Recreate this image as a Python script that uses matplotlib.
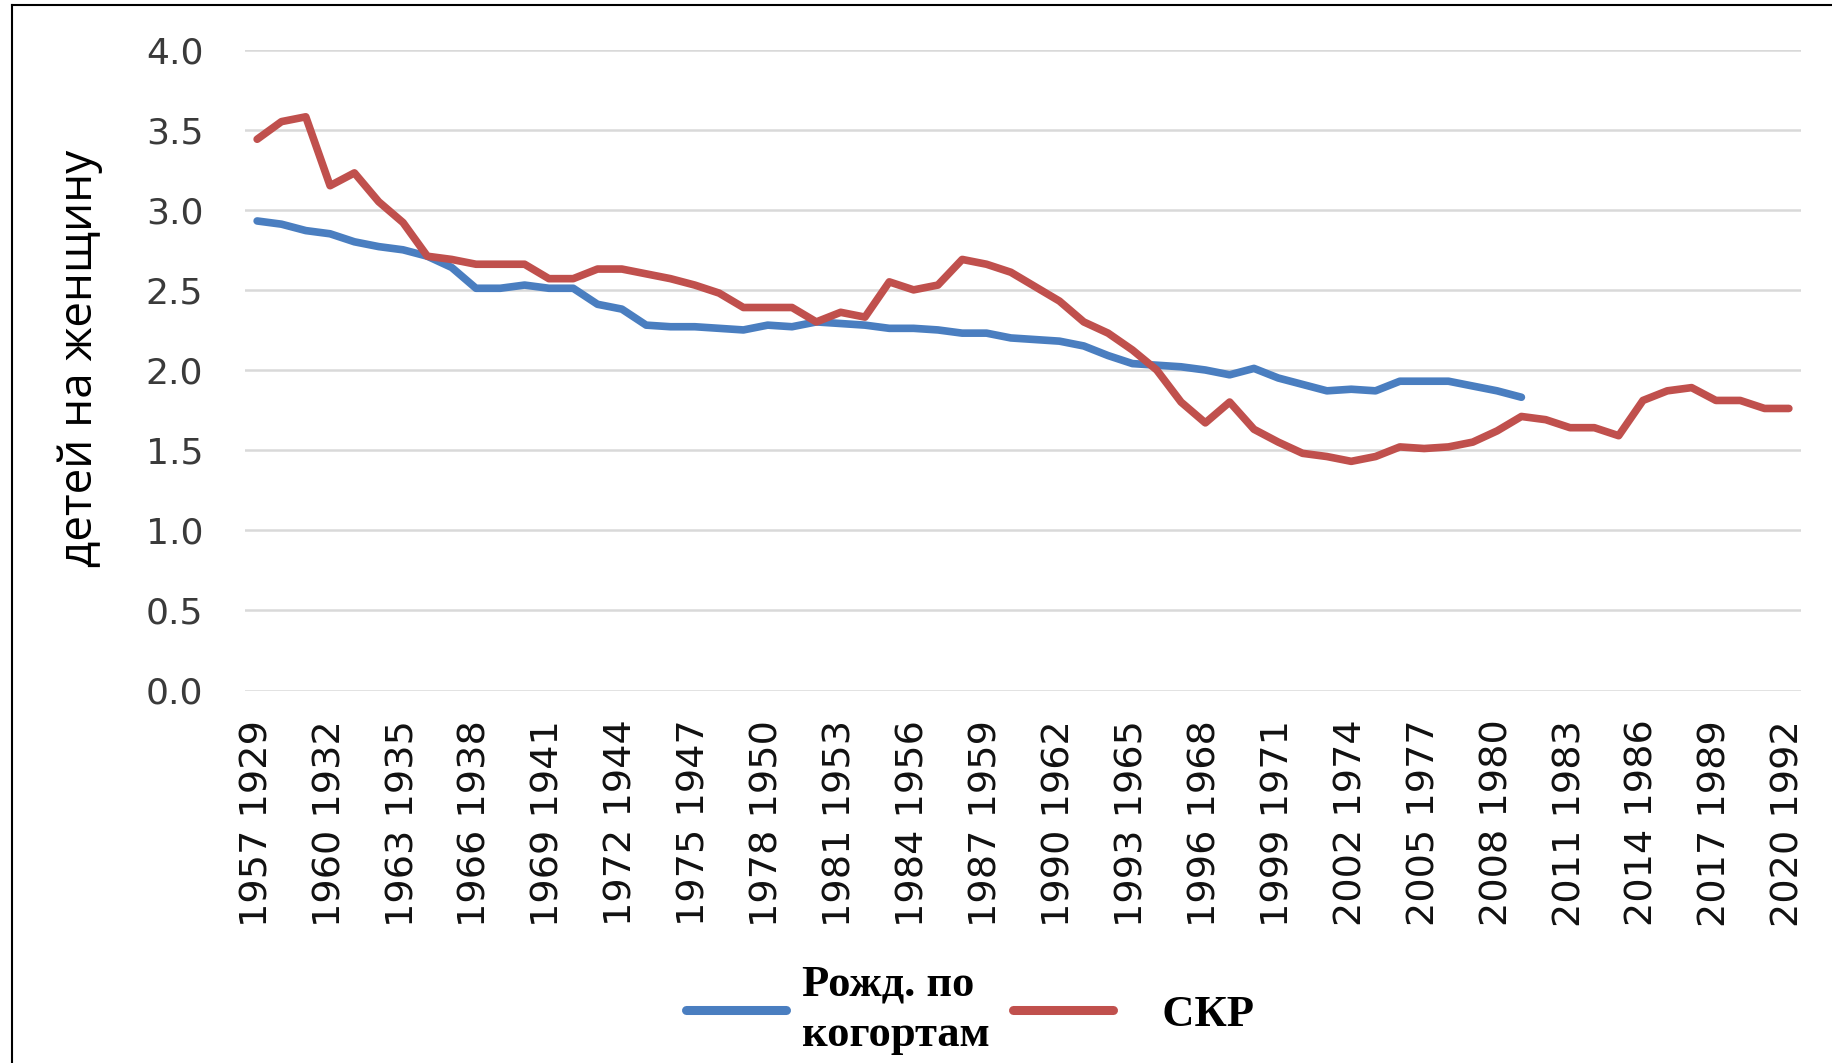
import matplotlib
matplotlib.use("Agg")
import matplotlib.pyplot as plt
from matplotlib.lines import Line2D

# period years on the axis and the matching cohort years (28 years earlier)
years = list(range(1957, 2021))
cohort_years = [y - 28 for y in years]

# total fertility rate (СКР), 1957-2020
tfr = [3.44, 3.55, 3.58, 3.15, 3.23, 3.05, 2.92, 2.71, 2.69, 2.66,
       2.66, 2.66, 2.57, 2.57, 2.63, 2.63, 2.60, 2.57, 2.53, 2.48,
       2.39, 2.39, 2.39, 2.30, 2.36, 2.33, 2.55, 2.50, 2.53, 2.69,
       2.66, 2.61, 2.52, 2.43, 2.30, 2.23, 2.125, 2.00, 1.80, 1.67,
       1.80, 1.63, 1.55, 1.48, 1.46, 1.43, 1.46, 1.52, 1.51, 1.52,
       1.55, 1.62, 1.71, 1.69, 1.64, 1.64, 1.59, 1.81, 1.87, 1.89,
       1.81, 1.81, 1.76, 1.76]

# completed cohort fertility, cohorts 1929-1981 (shown at period year + 28)
cohort = [2.93, 2.91, 2.87, 2.85, 2.80, 2.77, 2.75, 2.71, 2.64, 2.51,
          2.51, 2.53, 2.51, 2.51, 2.41, 2.38, 2.28, 2.27, 2.27, 2.26,
          2.25, 2.28, 2.27, 2.30, 2.29, 2.28, 2.26, 2.26, 2.25, 2.23,
          2.23, 2.20, 2.19, 2.18, 2.15, 2.09, 2.04, 2.03, 2.02, 2.00,
          1.97, 2.01, 1.95, 1.91, 1.87, 1.88, 1.87, 1.93, 1.93, 1.93,
          1.90, 1.87, 1.83]

tick_labels = [f"{y} {c}" for y, c in zip(years, cohort_years)]

blue = "#4A7EC0"
red = "#C0504D"

fig = plt.figure(figsize=(18.32, 10.63), dpi=100)
ax = fig.add_axes([245 / 1832, 1 - 690.5 / 1063, 1556 / 1832, 641 / 1063])

x_all = list(range(len(years)))
line_b, = ax.plot(x_all[:len(cohort)], cohort, color=blue, lw=5.5,
                  solid_joinstyle="round", solid_capstyle="round")
line_r, = ax.plot(x_all, tfr, color=red, lw=5.5,
                  solid_joinstyle="round", solid_capstyle="round")

ax.set_xlim(-0.5, len(years) - 0.5)
ax.set_ylim(0, 4)
ax.set_yticks([i * 0.5 for i in range(9)])
ax.set_yticklabels([f"{i * 0.5:.1f}" for i in range(9)])
ax.set_xticks(x_all[::3])
ax.set_xticklabels(tick_labels[::3], rotation=90)

ax.grid(axis="y", color="#D9D9D9", lw=1.8)
ax.set_axisbelow(True)
for s in ax.spines.values():
    s.set_visible(False)
ax.tick_params(axis="y", length=0, pad=30, labelsize=26, labelcolor="#3a3a3a")
ax.tick_params(axis="x", length=0, pad=21, labelsize=27.5, labelcolor="#111111")

fig.text(80 / 1832, 1 - 358 / 1063, "детей на женщину", rotation=90,
         ha="center", va="center", fontsize=33, family="Open Sans")

leg = fig.legend([line_b, line_r], ["Рожд. по\nкогортам", "   СКР"],
                 loc="center", bbox_to_anchor=(970 / 1832, 1 - 1010 / 1063),
                 ncol=2, frameon=False, borderpad=0, handlelength=2.25,
                 handletextpad=0.36, columnspacing=0.52,
                 prop={"family": "Liberation Serif", "weight": "bold", "size": 32})
for h in leg.legend_handles:
    h.set_linewidth(6.5)
leg.get_texts()[0].set_linespacing(1.35)

# thin frame on the left and top edges, as in the source image
fig.add_artist(Line2D([12 / 1832, 12 / 1832], [0, 1 - 5 / 1063], color="black", lw=1.5))
fig.add_artist(Line2D([12 / 1832, 1], [1 - 5 / 1063, 1 - 5 / 1063], color="black", lw=1.5))

fig.savefig("out.png", dpi=100)
